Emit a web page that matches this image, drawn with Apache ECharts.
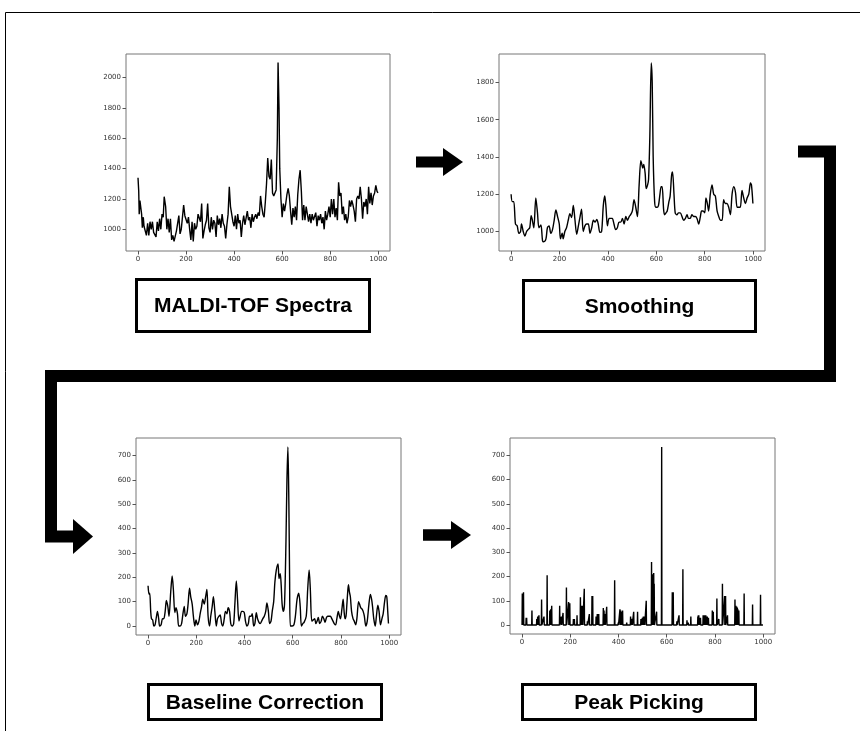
<!DOCTYPE html>
<html>
<head>
<meta charset="utf-8">
<script src="https://cdn.jsdelivr.net/npm/echarts@6/dist/echarts.min.js"></script>
<style>
  html, body { margin: 0; padding: 0; background: #fff; }
  #chart { width: 860px; height: 731px; }
</style>
</head>
<body>
<div id="chart"></div>
<script>
// Raw MALDI-TOF spectrum: [m/z index, intensity]
const rawSpectrum = [
  [0,1340],[3,1250],[5,1100],[8,1190],[12,1190],[15,1100],[18,1010],[22,1080],[25,1020],[30,1030],
  [35,960],[40,1040],[45,960],[50,1050],[55,1000],[60,1050],[65,980],[70,990],[75,950],[80,1050],
  [85,990],[90,1070],[95,1000],[100,1100],[105,1080],[109,1215],[115,1150],[120,1000],[125,1070],[130,980],
  [135,1070],[140,930],[145,960],[150,920],[155,930],[160,990],[165,1000],[170,1090],[175,970],[180,1000],
  [185,990],[190,1160],[195,1090],[200,1100],[205,1040],[210,1080],[215,1000],[220,930],[225,1050],[230,920],
  [235,1040],[240,1000],[245,1020],[250,1100],[255,1090],[260,1050],[265,1170],[270,940],[275,990],[280,1030],
  [285,1060],[290,1170],[295,1010],[300,980],[305,1080],[310,1000],[315,1060],[320,1040],[325,950],[330,1090],
  [335,1030],[340,1070],[345,1010],[350,1100],[355,1040],[360,1020],[365,940],[370,1030],[375,1100],[380,1280],
  [385,1150],[390,1100],[395,1050],[400,1020],[405,1090],[410,1000],[415,1100],[420,1040],[425,1060],[430,950],
  [435,1040],[440,1090],[445,1030],[450,1020],[455,1120],[460,1060],[465,1080],[470,1010],[475,1100],[480,1050],
  [485,1080],[490,1100],[495,1070],[500,1110],[505,1090],[510,1220],[515,1150],[520,1100],[525,1080],[530,1180],
  [535,1300],[540,1470],[545,1350],[550,1330],[555,1460],[560,1240],[565,1220],[570,1210],[575,1260],[580,1600],
  [583,2100],[587,1800],[590,1400],[595,1200],[600,1080],[605,1170],[610,1120],[615,1170],[620,1230],[625,1270],
  [630,1220],[635,1120],[640,1030],[645,1140],[650,1080],[655,1150],[660,1060],[665,1230],[670,1330],[675,1390],
  [680,1250],[685,1060],[690,1160],[695,1060],[700,1150],[705,1100],[710,1050],[715,1100],[720,1040],[725,1100],
  [730,1060],[735,1050],[740,1110],[745,1020],[750,1090],[755,1060],[760,1100],[765,1040],[770,1080],[775,1000],
  [780,1120],[785,1060],[790,1100],[795,1150],[800,1080],[805,1200],[810,1100],[815,1200],[820,1080],[825,1140],
  [830,1060],[835,1310],[840,1220],[845,1240],[850,1100],[855,1150],[860,1060],[865,1100],[870,1040],[875,1080],
  [880,1190],[885,1150],[890,1190],[895,1160],[900,1120],[905,1050],[910,1200],[915,1220],[920,1200],[925,1280],
  [930,1200],[935,1070],[940,1180],[945,1150],[950,1200],[955,1100],[960,1280],[965,1170],[970,1240],[975,1160],
  [980,1220],[985,1240],[990,1290],[995,1250],[999,1240]
];

// Smoothed spectrum
const smoothedSpectrum = [
  [0,1200],[5,1160],[11,1160],[18,1040],[25,1030],[32,990],[39,1000],[43,1040],[50,1000],[57,975],
  [64,1000],[70,1010],[77,1020],[83,1085],[88,1060],[94,1020],[102,1180],[109,1100],[115,1020],[123,1035],
  [130,950],[135,945],[144,960],[150,1020],[157,1030],[164,990],[171,1010],[178,1060],[185,1115],[192,1080],
  [199,1040],[204,960],[211,990],[215,960],[222,1000],[229,1020],[236,1060],[243,1095],[250,1075],[257,1140],
  [264,1060],[271,985],[278,1030],[285,1080],[291,1120],[298,1000],[305,1030],[312,1040],[319,1040],[326,990],
  [333,1020],[340,1060],[347,1050],[354,1065],[360,1040],[367,995],[374,1000],[381,1140],[387,1190],[392,1130],
  [398,1030],[405,1070],[412,1070],[418,1070],[425,1040],[432,1010],[439,1020],[446,1050],[453,1050],[460,1070],
  [467,1040],[474,1080],[481,1060],[488,1080],[494,1090],[501,1110],[508,1170],[515,1130],[522,1080],[529,1250],
  [536,1380],[540,1360],[544,1340],[548,1360],[554,1310],[558,1230],[564,1250],[568,1280],[573,1500],[579,1905],
  [583,1800],[587,1400],[593,1160],[598,1130],[604,1130],[609,1140],[615,1200],[620,1240],[624,1240],[630,1120],
  [634,1090],[640,1100],[645,1110],[652,1160],[657,1190],[663,1300],[667,1320],[673,1200],[678,1100],[685,1090],
  [692,1100],[699,1100],[706,1080],[713,1060],[720,1070],[727,1090],[733,1070],[740,1070],[747,1090],[754,1080],
  [761,1080],[768,1070],[775,1040],[782,1080],[787,1110],[793,1110],[800,1100],[805,1180],[811,1150],[816,1110],
  [823,1200],[830,1250],[837,1200],[844,1190],[851,1110],[858,1080],[865,1060],[872,1060],[878,1170],[885,1150],
  [892,1150],[899,1130],[906,1090],[913,1200],[920,1240],[927,1210],[934,1130],[941,1130],[947,1130],[954,1220],
  [961,1180],[968,1150],[975,1180],[982,1200],[989,1260],[993,1250],[999,1150]
];

// Baseline-corrected spectrum
const correctedSpectrum = [
  [0,165],[4,130],[7,135],[11,60],[14,30],[19,25],[24,0],[29,5],[35,40],[39,60],
  [44,30],[48,0],[54,5],[60,30],[65,30],[71,60],[76,105],[82,80],[87,40],[94,140],
  [100,205],[105,150],[111,55],[116,75],[122,50],[127,0],[133,0],[139,10],[144,45],[150,80],
  [155,40],[161,50],[166,90],[172,155],[177,120],[183,90],[188,40],[194,0],[199,25],[205,5],
  [211,20],[216,50],[222,80],[227,110],[233,90],[238,115],[244,150],[249,40],[255,0],[260,40],
  [266,80],[271,120],[277,60],[283,0],[288,30],[294,40],[299,45],[305,10],[310,0],[316,30],
  [321,60],[327,50],[332,75],[338,60],[343,10],[349,0],[355,10],[360,90],[366,185],[371,110],
  [377,20],[382,40],[388,60],[393,60],[399,55],[404,20],[410,0],[416,10],[421,40],[427,40],
  [432,50],[438,0],[443,10],[449,55],[454,30],[460,15],[465,10],[471,20],[476,30],[482,40],
  [488,60],[493,95],[499,60],[504,10],[510,20],[515,60],[521,100],[526,180],[532,230],[539,255],
  [543,195],[548,215],[552,170],[556,90],[561,60],[566,90],[572,350],[576,600],[580,735],[584,500],
  [587,200],[590,0],[598,0],[605,5],[611,40],[618,110],[625,135],[631,80],[636,0],[642,10],
  [647,15],[656,40],[662,150],[668,230],[673,150],[679,20],[685,25],[691,30],[696,10],[701,20],
  [706,35],[712,10],[718,20],[723,40],[729,30],[734,15],[740,35],[745,40],[751,40],[756,40],
  [762,30],[767,20],[772,10],[778,5],[783,30],[789,60],[794,40],[798,30],[804,70],[809,110],
  [813,60],[817,30],[821,40],[824,80],[828,140],[831,170],[835,140],[839,120],[844,60],[850,30],
  [855,20],[861,5],[866,30],[873,100],[877,90],[882,75],[887,70],[892,60],[897,40],[903,0],
  [909,20],[916,90],[922,130],[927,110],[931,80],[936,30],[942,0],[947,40],[953,85],[958,60],
  [964,5],[970,30],[975,50],[981,100],[986,125],[990,120],[994,60],[997,10]
];

// Picked peaks: [m/z index, height]
const pickedPeaks = [
  [1,130],[6,135],[17,30],[19,30],[41,60],[61,25],[65,35],[70,40],[81,105],[91,35],
  [104,205],[115,60],[119,65],[123,80],[156,80],[163,35],[170,50],[184,155],[193,95],[198,90],
  [213,25],[217,25],[228,40],[242,115],[247,80],[251,80],[258,150],[271,15],[279,45],[290,120],
  [293,120],[307,35],[309,35],[312,45],[314,40],[318,45],[337,70],[340,60],[344,45],[351,75],
  [384,185],[399,10],[406,65],[409,60],[412,55],[417,60],[434,10],[450,35],[456,25],[463,55],
  [479,55],[493,25],[499,30],[503,35],[508,35],[515,100],[537,260],[539,200],[541,195],[543,210],
  [546,215],[548,170],[558,55],[579,735],[602,5],[623,135],[627,135],[642,15],[651,40],[667,230],
  [684,20],[689,10],[700,35],[706,5],[729,35],[731,40],[733,40],[737,30],[740,30],[751,40],
  [753,40],[757,40],[760,40],[762,40],[765,35],[768,35],[773,30],[789,60],[793,55],[808,110],
  [816,25],[831,170],[840,120],[844,120],[852,40],[883,105],[885,80],[887,80],[889,75],[891,75],
  [893,70],[895,65],[897,60],[899,60],[921,130],[956,85],[989,125]
];

const xTicks = [0, 200, 400, 600, 800, 1000];
const rawYTicks = [1000, 1200, 1400, 1600, 1800, 2000];
const smoothYTicks = [1000, 1200, 1400, 1600, 1800];
const correctedYTicks = [0, 100, 200, 300, 400, 500, 600, 700];
const stepTitles = ['MALDI-TOF Spectra', 'Smoothing', 'Baseline Correction', 'Peak Picking'];

// Peaks drawn as narrow spikes on a zero line
function peakLine(peaks) {
  const sorted = peaks.slice().sort((a, b) => a[0] - b[0]);
  const out = [[0, 0]];
  sorted.forEach(([p, h]) => {
    out.push([p - 1, 0], [p, h], [p + 1, 0]);
  });
  out.push([999, 0]);
  return out;
}

const panels = [
  { grid: { left: 126, top: 54, width: 264, height: 197 }, y: [857, 2156], yTicks: rawYTicks, data: rawSpectrum, smooth: false },
  { grid: { left: 499, top: 54, width: 266, height: 197 }, y: [895, 1953], yTicks: smoothYTicks, data: smoothedSpectrum, smooth: 0.3 },
  { grid: { left: 136, top: 438, width: 265, height: 197 }, y: [-37, 772], yTicks: correctedYTicks, data: correctedSpectrum, smooth: 0.3 },
  { grid: { left: 510, top: 438, width: 265, height: 196 }, y: [-37, 772], yTicks: correctedYTicks, data: peakLine(pickedPeaks), smooth: false }
];

const tickFont = { fontSize: 7, color: '#333', fontFamily: 'DejaVu Sans', formatter: v => String(v) };

const grids = panels.map(p => Object.assign({
  show: true, borderColor: '#777', borderWidth: 1, backgroundColor: 'transparent'
}, p.grid));

const xAxes = panels.map((p, i) => ({
  type: 'value', gridIndex: i, min: -50, max: 1049, position: 'bottom',
  axisLine: { show: false, onZero: false },
  axisTick: { show: true, customValues: xTicks, length: 3.5, lineStyle: { color: '#555' } },
  axisLabel: Object.assign({ customValues: xTicks, margin: 5 }, tickFont),
  splitLine: { show: false }
}));

const yAxes = panels.map((p, i) => ({
  type: 'value', gridIndex: i, min: p.y[0], max: p.y[1], position: 'left',
  axisLine: { show: false, onZero: false },
  axisTick: { show: true, customValues: p.yTicks, length: 3.5, lineStyle: { color: '#555' } },
  axisLabel: Object.assign({ customValues: p.yTicks, margin: 5 }, tickFont),
  splitLine: { show: false }
}));

const series = panels.map((p, i) => ({
  type: 'line', xAxisIndex: i, yAxisIndex: i, data: p.data,
  showSymbol: false, symbol: 'none', smooth: p.smooth,
  lineStyle: { color: '#000', width: 1.4 },
  silent: true
}));

// Labelled boxes under each panel
const boxes = [
  { x: 136.5, y: 279.5, w: 233, h: 52 },
  { x: 523.5, y: 280.5, w: 232, h: 51 },
  { x: 148.5, y: 684.5, w: 233, h: 35 },
  { x: 522.5, y: 684.5, w: 233, h: 35 }
];

const graphic = [];
// frame lines
graphic.push({ type: 'polyline', shape: { points: [[5.5, 731], [5.5, 12.5], [860, 12.5]] },
  style: { stroke: '#000', lineWidth: 1, fill: null } });

boxes.forEach((b, i) => {
  graphic.push({ type: 'rect', shape: { x: b.x, y: b.y, width: b.w, height: b.h },
    style: { fill: '#fff', stroke: '#000', lineWidth: 3 } });
  graphic.push({ type: 'text', x: b.x + b.w / 2, y: b.y + b.h / 2 + 1,
    style: { text: stepTitles[i], fill: '#000', font: 'bold 21px "Liberation Sans", Arial, sans-serif',
      align: 'center', verticalAlign: 'middle' } });
});

// flow arrows
function arrow(points, head, width) {
  graphic.push({ type: 'polyline', shape: { points },
    style: { stroke: '#000', lineWidth: width, fill: null, lineJoin: 'miter', lineCap: 'butt' } });
  graphic.push({ type: 'polygon', shape: { points: head }, style: { fill: '#000' } });
}
arrow([[416, 162], [444, 162]], [[443, 148], [463, 162], [443, 176]], 11);
arrow([[423, 535], [452, 535]], [[451, 521], [471, 535], [451, 549]], 11.5);
arrow([[798, 151.5], [830, 151.5], [830, 376], [51, 376], [51, 536.5], [74, 536.5]],
  [[73, 519], [93, 536.5], [73, 554]], 12);

const chart = echarts.init(document.getElementById('chart'), null, { renderer: 'canvas' });
chart.setOption({
  animation: false,
  backgroundColor: '#fff',
  grid: grids,
  xAxis: xAxes,
  yAxis: yAxes,
  series,
  graphic
});
</script>
</body>
</html>
